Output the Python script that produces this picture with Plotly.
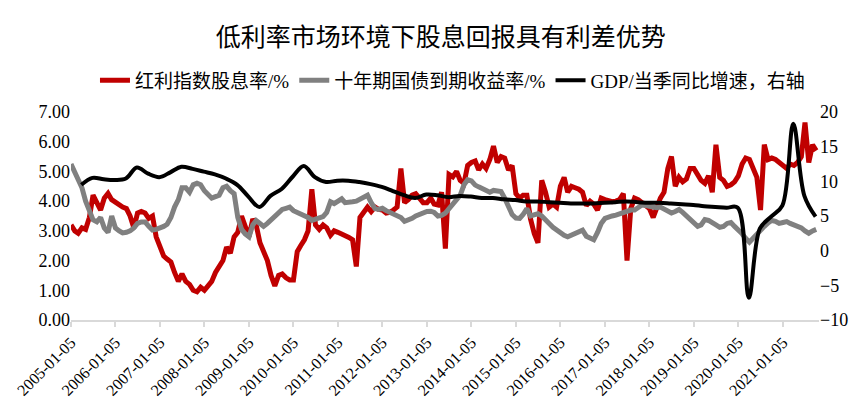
import pandas as pd
import plotly.graph_objects as go

# ---------------- data ----------------
month_dates = pd.date_range("2005-01-01", periods=202, freq="MS") + pd.Timedelta(days=4)

dividend_yield = [
    # 2005
    3.20, 3.00, 2.92, 3.10, 3.05, 3.45, 4.20, 3.95, 3.70, 4.10, 4.26, 4.05,
    # 2006
    3.95, 3.85, 3.80, 3.75, 3.50, 3.10, 3.60, 3.65, 3.60, 3.42, 3.50, 2.80,
    # 2007
    2.50, 2.15, 2.05, 1.95, 1.60, 1.30, 1.55, 1.30, 1.20, 1.00, 0.95, 1.10,
    # 2008
    1.00, 1.15, 1.30, 1.60, 1.80, 2.00, 2.45, 2.25, 2.80, 2.95, 3.50, 3.15,
    # 2009
    2.80, 3.40, 3.20, 2.60, 2.35, 2.00, 1.50, 1.15, 1.50, 1.55, 1.42, 1.35,
    # 2010
    1.35, 2.30, 2.50, 2.70, 3.00, 4.40, 3.20, 3.05, 3.20, 3.10, 2.85, 3.00,
    # 2011
    2.95, 2.90, 2.85, 2.78, 2.70, 1.80, 3.45, 3.60, 3.80, 3.65, 3.80, 3.72,
    # 2012
    3.70, 3.60, 3.62, 3.70, 3.80, 5.10, 3.95, 4.05, 4.20, 4.25, 4.10, 3.95,
    # 2013
    3.95, 4.10, 3.90, 3.87, 4.30, 2.40, 4.90, 4.82, 5.00, 4.70, 4.60, 5.20,
    # 2014
    5.30, 5.35, 5.05, 5.25, 5.10, 5.40, 5.85, 5.30, 5.50, 5.45, 5.05, 5.20,
    # 2015
    4.25, 4.10, 4.20, 4.20, 3.40, 2.90, 2.60, 4.70, 4.30, 3.80, 3.90, 3.80,
    # 2016
    4.50, 4.80, 4.30, 4.50, 4.45, 4.40, 4.30, 3.85, 4.00, 3.90, 3.70, 4.10,
    # 2017
    4.05, 4.00, 3.98, 4.00, 4.05, 4.25, 2.00, 3.75, 4.10, 4.05, 3.95, 3.85,
    # 2018
    3.75, 3.45, 3.80, 4.10, 4.30, 5.10, 5.50, 4.50, 4.80, 4.65, 4.75, 5.10,
    # 2019
    5.10, 4.85, 4.70, 4.60, 4.85, 4.30, 5.90, 4.80, 4.70, 4.50, 4.55, 4.65,
    # 2020
    4.85, 5.25, 5.45, 5.40, 5.15, 4.80, 3.70, 5.90, 5.40, 5.45, 5.40, 5.30,
    # 2021
    5.20, 5.10, 5.25, 5.20, 5.30, 5.50, 6.65, 5.30, 5.90, 5.70,
]

bond_yield = [
    # 2005
    5.25, 5.00, 4.70, 4.45, 4.00, 3.65, 3.37, 3.30, 3.45, 3.10, 2.95, 3.50,
    # 2006
    3.10, 3.00, 2.93, 2.95, 3.00, 3.10, 3.25, 3.30, 3.30, 3.15, 3.03, 3.05,
    # 2007
    3.08, 3.15, 3.22, 3.45, 3.80, 4.05, 4.45, 4.45, 4.30, 4.55, 4.60, 4.55,
    # 2008
    4.35, 4.20, 4.10, 4.15, 4.20, 4.45, 4.50, 4.35, 4.25, 3.45, 3.05, 2.90,
    # 2009
    2.80, 3.20, 3.35, 3.25, 3.15, 3.25, 3.37, 3.50, 3.60, 3.72, 3.76, 3.80,
    # 2010
    3.68, 3.62, 3.58, 3.50, 3.45, 3.35, 3.38, 3.42, 3.48, 3.62, 3.98, 3.92,
    # 2011
    4.00, 4.08, 3.95, 3.95, 3.98, 4.00, 4.08, 4.15, 4.20, 3.95, 3.75, 3.72,
    # 2012
    3.76, 3.68, 3.63, 3.60, 3.52, 3.45, 3.32, 3.35, 3.42, 3.50, 3.55, 3.62,
    # 2013
    3.65, 3.66, 3.62, 3.50, 3.52, 3.60, 3.75, 3.90, 4.04, 4.20, 4.55, 4.72,
    # 2014
    4.68, 4.54, 4.48, 4.42, 4.35, 4.30, 4.36, 4.35, 4.32, 4.10, 3.80, 3.55,
    # 2015
    3.43, 3.42, 3.55, 3.75, 3.50, 3.55, 3.58, 3.50, 3.40, 3.25, 3.12, 3.02,
    # 2016
    2.92, 2.85, 2.80, 2.85, 2.92, 2.98, 3.02, 2.82, 2.75, 2.70, 2.95, 3.25,
    # 2017
    3.42, 3.48, 3.50, 3.53, 3.58, 3.60, 3.68, 3.70, 3.70, 3.78, 3.87, 3.85,
    # 2018
    3.82, 3.78, 3.78, 3.80, 3.72, 3.68, 3.60, 3.65, 3.72, 3.62, 3.50, 3.37,
    # 2019
    3.25, 3.15, 3.20, 3.38, 3.35, 3.25, 3.20, 3.12, 3.15, 3.25, 3.28, 3.15,
    # 2020
    3.05, 2.90, 2.75, 2.62, 2.75, 2.90, 3.03, 3.15, 3.27, 3.35, 3.32, 3.25,
    # 2021
    3.28, 3.31, 3.25, 3.20, 3.16, 3.10, 3.00, 2.92, 3.00, 3.05,
]

quarter_dates = pd.date_range("2005-03-31", periods=67, freq="QE")
gdp_yoy = [
    9.5, 10.5, 10.3, 10.2,   # 2005
    10.4, 12.0, 11.1, 10.6,  # 2006
    11.3, 12.1, 11.8, 11.4,  # 2007
    11.0, 10.4, 9.5, 7.8,    # 2008
    6.3, 7.9, 8.9, 10.7,     # 2009
    12.2, 10.6, 9.9, 10.1,   # 2010
    10.1, 9.9, 9.6, 9.2,     # 2011
    8.6, 8.0, 7.6, 8.1,      # 2012
    8.0, 7.7, 7.9, 7.8,      # 2013
    7.6, 7.6, 7.4, 7.3,      # 2014
    7.1, 7.1, 7.0, 6.9,      # 2015
    6.8, 6.8, 6.8, 6.9,      # 2016
    7.0, 7.1, 7.0, 6.9,      # 2017
    6.9, 6.8, 6.7, 6.6,      # 2018
    6.4, 6.3, 6.2, 6.2,      # 2019
    -6.8, 3.2, 4.9, 6.5,     # 2020
    18.3, 7.9, 4.9,          # 2021
]

tick_years = list(range(2005, 2022))
tick_vals = [f"{y}-01-05" for y in tick_years]
tick_text = [f"{y}-01-05" for y in tick_years]

title_text = "低利率市场环境下股息回报具有利差优势"
name_div = "红利指数股息率/%"
name_bond = "十年期国债到期收益率/%"
name_gdp = "GDP/当季同比增速，右轴"

# ---------------- figure ----------------
FONT = "Liberation Serif, Noto Sans CJK SC, serif"

fig = go.Figure()
fig.add_trace(go.Scatter(
    x=month_dates, y=dividend_yield, name=name_div, mode="lines",
    line=dict(color="#C00000", width=5), yaxis="y"))
fig.add_trace(go.Scatter(
    x=month_dates, y=bond_yield, name=name_bond, mode="lines",
    line=dict(color="#808080", width=5), yaxis="y"))
fig.add_trace(go.Scatter(
    x=quarter_dates, y=gdp_yoy, name=name_gdp, mode="lines",
    line=dict(color="#000000", width=4, shape="spline", smoothing=1.0),
    yaxis="y2"))

# the page body has an 8px margin, so the figure is made 8px smaller
fig.update_layout(
    width=857, height=405,
    margin=dict(l=63, r=46, t=104, b=93, autoexpand=False),
    paper_bgcolor="white", plot_bgcolor="white",
    font=dict(family=FONT, color="#000000", size=14),
    title=dict(text=title_text, x=0.505, xanchor="center", y=0.928, yanchor="middle",
               font=dict(family="Noto Sans CJK SC", size=25, color="#000000")),
    showlegend=True,
    legend=dict(orientation="h", x=0.51, xanchor="center", y=1.152, yanchor="middle",
                font=dict(family=FONT, size=19), itemwidth=30,
                bgcolor="rgba(0,0,0,0)", tracegroupgap=0),
    xaxis=dict(
        type="date",
        range=["2005-01-05", "2021-10-28"],
        tickmode="array", tickvals=tick_vals, ticktext=tick_text,
        tickangle=-45, tickfont=dict(family=FONT, size=16),
        showgrid=False, zeroline=False, automargin=False,
        showline=True, linecolor="#D9D9D9", linewidth=2,
        ticks="outside", tickcolor="#D9D9D9", ticklen=5, tickwidth=1.5,
    ),
    yaxis=dict(
        range=[0, 7], dtick=1, tick0=0, tickformat=".2f",
        showgrid=False, zeroline=False, showline=False, automargin=False,
        tickfont=dict(family=FONT, size=18), ticks="",
    ),
    yaxis2=dict(
        range=[-10, 20], dtick=5, tick0=-10, overlaying="y", side="right",
        showgrid=False, zeroline=False, showline=False, automargin=False,
        tickfont=dict(family=FONT, size=18, weight="normal"), ticks="",
    ),
)

fig.write_html("out.html")
